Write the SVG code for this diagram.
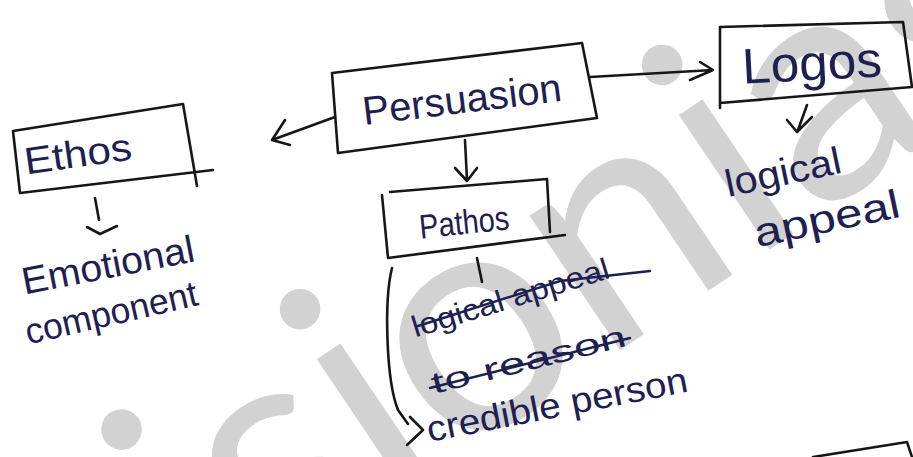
<svg xmlns="http://www.w3.org/2000/svg" width="913" height="457" viewBox="0 0 913 457">
<style>
.ink{fill:none;stroke:#161616;stroke-width:2.6;stroke-linecap:round;stroke-linejoin:round}
.txt{font-family:"Liberation Sans",Arial,sans-serif;fill:#1d2050}
.strike{fill:none;stroke:#1d2050;stroke-width:2.4;stroke-linecap:round}
.wm{font-family:Lato,"Liberation Sans",sans-serif;fill:#d2d2d2}
</style>
<rect width="913" height="457" fill="#ffffff"/>
<g id="watermark"><text class="wm" font-size="320" transform="translate(72,720) rotate(-34)">visionias</text></g>
<g id="persuasion">
<path class="ink" d="M332,73 L582,43 L597,118 L338,153 Z"/>
<text class="txt" x="462" y="113" font-size="40" text-anchor="middle" transform="rotate(-7 462 100)" textLength="200" lengthAdjust="spacingAndGlyphs">Persuasion</text>
</g>
<g id="ethos">
<path class="ink" d="M13,131 L183,104 L197,186 M13,131 L20,193 L213,170"/>
<text class="txt" x="78" y="167" font-size="38" text-anchor="middle" transform="rotate(-8 78 155)" textLength="108" lengthAdjust="spacingAndGlyphs">Ethos</text>
</g>
<g id="logos">
<path class="ink" d="M720,27 L903,22 L912,87 M720,27 L720,108 M720,103 L912,87"/>
<text class="txt" x="812" y="80" font-size="50" text-anchor="middle" transform="rotate(-3 812 64)" textLength="140" lengthAdjust="spacingAndGlyphs">Logos</text>
</g>
<g id="pathos">
<path class="ink" d="M390,192 L547,179 L550,232 M382,195 L388,258 L565,235"/>
<text class="txt" x="464" y="234" font-size="34" text-anchor="middle" transform="rotate(-6 464 222)" textLength="90" lengthAdjust="spacingAndGlyphs">Pathos</text>
</g>
<g id="emotional-component">
<text class="txt" x="108" y="278" font-size="38" text-anchor="middle" transform="rotate(-11 108 265)" textLength="175" lengthAdjust="spacingAndGlyphs">Emotional</text>
<text class="txt" x="111" y="325" font-size="36" text-anchor="middle" transform="rotate(-13 111 312)" textLength="176" lengthAdjust="spacingAndGlyphs">component</text>
</g>
<g id="logical-appeal">
<text class="txt" x="783" y="185" font-size="38" text-anchor="middle" transform="rotate(-12 783 172)" textLength="118" lengthAdjust="spacingAndGlyphs">logical</text>
<text class="txt" x="828" y="232" font-size="40" text-anchor="middle" transform="rotate(-12 828 224)" textLength="148" lengthAdjust="spacingAndGlyphs">appeal</text>
</g>
<g id="struck-text">
<text class="txt" x="511" y="308" font-size="30" text-anchor="middle" transform="rotate(-17 511 300)" textLength="205" lengthAdjust="spacingAndGlyphs">logical appeal</text>
<path class="strike" d="M418,326 L560,281 L650,271"/>
<text class="txt" x="529" y="370" font-size="30" text-anchor="middle" transform="rotate(-14 529 362)" textLength="200" lengthAdjust="spacingAndGlyphs">to reason</text>
<path class="strike" d="M430,388 L630,338"/>
</g>
<g id="credible-person">
<text class="txt" x="557" y="417" font-size="36" text-anchor="middle" transform="rotate(-11 557 405)" textLength="265" lengthAdjust="spacingAndGlyphs">credible person</text>
</g>
<g id="partial-box">
<path class="ink" d="M813,457 L907,442 L912,457"/>
</g>
<g id="connectors">
<path class="ink" d="M335,117 L272,140 M285,120 L272,140 L290,145"/>
<path class="ink" d="M590,77 L713,70 M690,80 L713,70 L700,62"/>
<path class="ink" d="M465,140 L467,180 M455,168 L467,181 L477,168"/>
<path class="ink" d="M95,198 L99,220 M87,227 L100,234 L117,226"/>
<path class="ink" d="M807,105 L798,130 M787,120 L797,132 L812,117"/>
<path class="ink" d="M477,258 L482,282"/>
<path class="ink" d="M392,268 C384,300 386,380 398,410 L408,424 M410,417 L423,430 L407,445"/>
</g>
</svg>
